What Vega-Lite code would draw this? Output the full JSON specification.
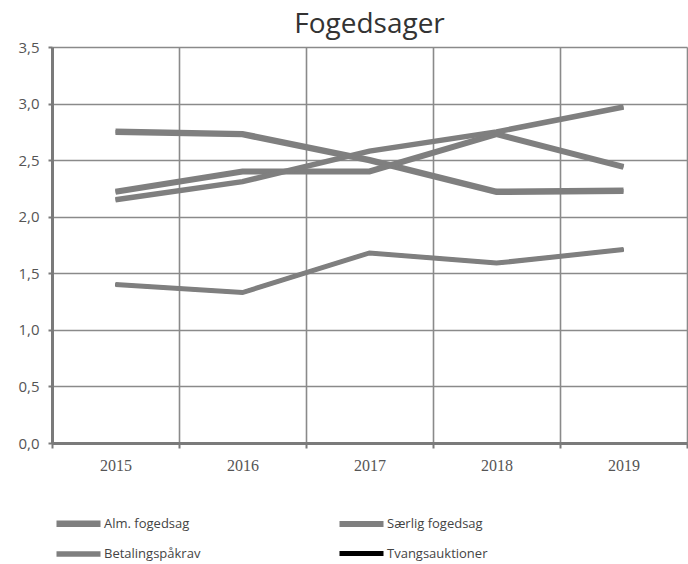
{
  "$schema": "https://vega.github.io/schema/vega-lite/v6.json",
  "autosize": {"type": "none"},
  "width": 635,
  "height": 396,
  "padding": {"left": 52, "top": 47, "right": 1, "bottom": 121},
  "background": "white",
  "title": {"text": "Fogedsager", "font": "Open Sans", "fontSize": 28, "fontWeight": "normal", "color": "#333333", "anchor": "middle", "offset": 1},
  "config": {"view": {"stroke": null}},
  "data": {"values": [
    {"year": "2015", "series": "Alm. fogedsag", "value": 2.75},
    {"year": "2016", "series": "Alm. fogedsag", "value": 2.73},
    {"year": "2017", "series": "Alm. fogedsag", "value": 2.5},
    {"year": "2018", "series": "Alm. fogedsag", "value": 2.22},
    {"year": "2019", "series": "Alm. fogedsag", "value": 2.23},
    {"year": "2015", "series": "Særlig fogedsag", "value": 2.22},
    {"year": "2016", "series": "Særlig fogedsag", "value": 2.4},
    {"year": "2017", "series": "Særlig fogedsag", "value": 2.4},
    {"year": "2018", "series": "Særlig fogedsag", "value": 2.73},
    {"year": "2019", "series": "Særlig fogedsag", "value": 2.44},
    {"year": "2015", "series": "Betalingspåkrav", "value": 2.15},
    {"year": "2016", "series": "Betalingspåkrav", "value": 2.31},
    {"year": "2017", "series": "Betalingspåkrav", "value": 2.58},
    {"year": "2018", "series": "Betalingspåkrav", "value": 2.75},
    {"year": "2019", "series": "Betalingspåkrav", "value": 2.97},
    {"year": "2015", "series": "Tvangsauktioner", "value": 1.4},
    {"year": "2016", "series": "Tvangsauktioner", "value": 1.33},
    {"year": "2017", "series": "Tvangsauktioner", "value": 1.68},
    {"year": "2018", "series": "Tvangsauktioner", "value": 1.59},
    {"year": "2019", "series": "Tvangsauktioner", "value": 1.71}
  ]},
  "encoding": {
    "x": {"field": "year", "type": "ordinal", "scale": {"type": "band", "paddingInner": 0, "paddingOuter": 0},
      "axis": {"title": null, "labelAngle": 0, "tickBand": "extent", "grid": true, "gridColor": "#8a8a8a", "gridWidth": 1.6,
        "domainColor": "#7a7a7a", "domainWidth": 3, "tickColor": "#7a7a7a", "tickSize": 5, "tickWidth": 2,
        "labelFont": "Liberation Serif", "labelFontSize": 16, "labelColor": "#555555", "labelPadding": 9}},
    "y": {"field": "value", "type": "quantitative", "scale": {"domain": [0, 3.5]},
      "axis": {"title": null, "values": [0, 0.5, 1, 1.5, 2, 2.5, 3, 3.5], "labelExpr": "replace(format(datum.value, '.1f'), '.', ',')",
        "grid": true, "gridColor": "#8a8a8a", "gridWidth": 1.6, "domainColor": "#7a7a7a", "domainWidth": 3,
        "tickColor": "#7a7a7a", "tickSize": 4, "tickWidth": 2, "labelFont": "Open Sans", "labelFontSize": 15,
        "labelColor": "#555555", "labelPadding": 9}}
  },
  "layer": [
    {
      "mark": {"type": "line", "strokeWidth": 3.5},
      "encoding": {
        "color": {"field": "series", "type": "nominal",
          "scale": {"domain": ["Alm. fogedsag", "Særlig fogedsag", "Betalingspåkrav", "Tvangsauktioner"], "range": ["#7f7f7f", "#7f7f7f", "#7f7f7f", "#000000"]},
          "legend": {"title": null, "orient": "none", "legendX": 1, "legendY": 462, "direction": "horizontal", "columns": 2,
            "symbolType": "M-1,0H3", "symbolSize": 484, "symbolStrokeWidth": 5, "columnPadding": 126, "rowPadding": 3,
            "labelFont": "Open Sans", "labelFontSize": 13, "labelColor": "#444444", "labelOffset": 22}}
      }
    },
    {
      "mark": {"type": "line"},
      "encoding": {
        "stroke": {"field": "series", "type": "nominal",
          "scale": {"domain": ["Alm. fogedsag", "Særlig fogedsag", "Betalingspåkrav", "Tvangsauktioner"], "range": ["#7f7f7f", "#7f7f7f", "#7f7f7f", "#7f7f7f"]},
          "legend": null},
        "strokeWidth": {"field": "series", "type": "nominal",
          "scale": {"domain": ["Alm. fogedsag", "Særlig fogedsag", "Betalingspåkrav", "Tvangsauktioner"], "range": [6.5, 5, 4.5, 5]},
          "legend": null}
      }
    }
  ]
}
